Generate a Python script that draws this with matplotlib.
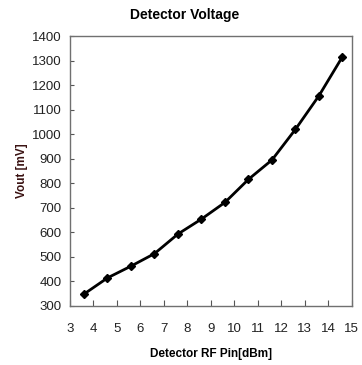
import matplotlib
matplotlib.use("Agg")
import matplotlib.pyplot as plt

# ---------------------------------------------------------------------
# Data
# ---------------------------------------------------------------------
PIN_DBM = [3.6, 4.6, 5.6, 6.6, 7.6, 8.6, 9.6, 10.6, 11.6, 12.6, 13.6, 14.6]
VOUT_MV = [348, 414, 462, 513, 593, 654, 722, 816, 895, 1020, 1157, 1316]

X_TICKS = list(range(3, 16))
Y_TICKS = list(range(300, 1401, 100))

plt.rcParams["font.family"] = ["Liberation Sans", "DejaVu Sans"]

fig = plt.figure(figsize=(3.62, 3.65), dpi=100)
ax = fig.add_axes([0.193, 0.162, 0.779, 0.739])

ax.plot(PIN_DBM, VOUT_MV, color="black", linewidth=2.0,
        marker="D", markersize=3.8, markerfacecolor="black")

ax.set_xlim(3, 15)
ax.set_ylim(300, 1400)
ax.set_xticks(X_TICKS)
ax.set_yticks(Y_TICKS)
ax.tick_params(axis="x", direction="in", length=4, width=0.8, color="#555555",
               labelsize=9.5, pad=12, labelcolor="#222222")
ax.tick_params(axis="y", direction="in", length=3, width=0.8, color="#555555",
               labelsize=9.5, pad=6, labelcolor="#222222")
for s in ax.spines.values():
    s.set_color("#707070")
    s.set_linewidth(1.0)

ax.set_xlabel("Detector RF Pin[dBm]", fontsize=8.5, fontweight="bold", labelpad=10)
ax.set_ylabel("Vout [mV]", fontsize=8.5, fontweight="bold", color="#3a1212",
              labelpad=3)
fig.text(0.51, 0.958, "Detector Voltage", ha="center", va="center",
         fontsize=10, fontweight="bold")

fig.savefig("out.png", dpi=100)
